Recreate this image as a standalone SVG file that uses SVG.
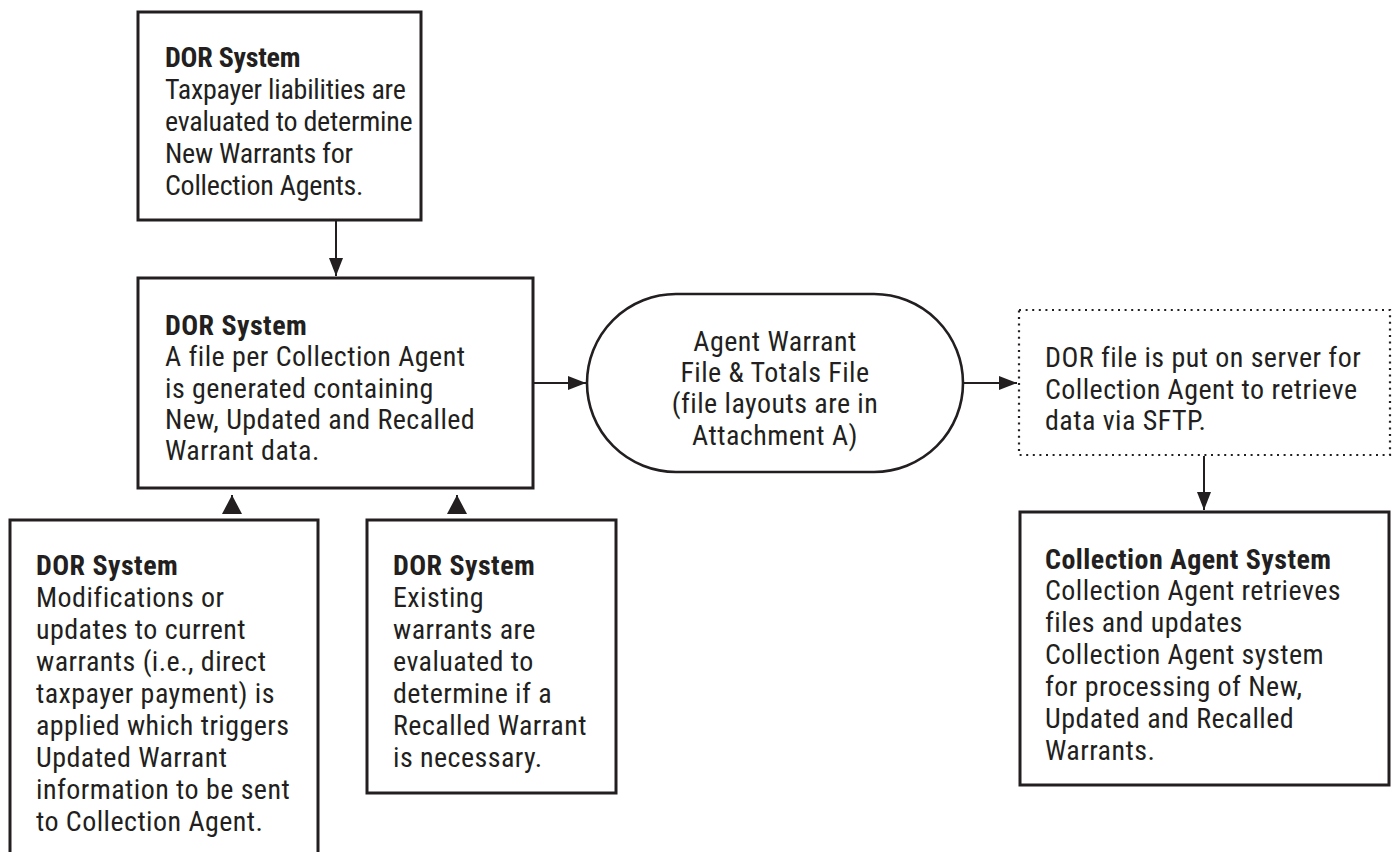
<svg xmlns="http://www.w3.org/2000/svg" width="1394" height="852" viewBox="0 0 1394 852">
<style>
.box{fill:#fff;stroke:#231f20;stroke-width:3}
.dot{fill:#fff;stroke:#231f20;stroke-width:2.2;stroke-dasharray:2 4.6}
.t{font-family:Roboto,"Liberation Sans",sans-serif;font-size:28px;fill:#231f20;font-stretch:condensed;letter-spacing:0.45px}
.t0{letter-spacing:-0.25px}
.b{font-weight:bold}
.c{stroke:#231f20;stroke-width:2;fill:none}
</style>
<defs>
<marker id="ah" markerUnits="userSpaceOnUse" markerWidth="20" markerHeight="14" refX="18" refY="7" orient="auto"><path d="M0,0 L18,7 L0,14 Z" fill="#231f20"/></marker>
<marker id="ahb" markerUnits="userSpaceOnUse" markerWidth="20" markerHeight="20" refX="19" refY="10" orient="auto"><path d="M0,0 L19,10 L0,20 Z" fill="#231f20"/></marker>
</defs>
<g id="connectors">
<line class="c" x1="336" y1="221" x2="336" y2="276" marker-end="url(#ah)"/>
<line class="c" x1="534" y1="383" x2="586" y2="383" marker-end="url(#ah)"/>
<line class="c" x1="964" y1="383" x2="1017" y2="383" marker-end="url(#ah)"/>
<line class="c" x1="1204" y1="456" x2="1204" y2="510" marker-end="url(#ah)"/>
<line class="c" x1="232" y1="514" x2="232" y2="495" marker-end="url(#ahb)"/>
<line class="c" x1="457" y1="514" x2="457" y2="495" marker-end="url(#ahb)"/>
</g>
<g id="node-new-warrants">
<rect class="box" x="138" y="12" width="283" height="208"/>
<text class="t t0" x="165"><tspan class="b" y="67">DOR System</tspan><tspan x="165" y="99">Taxpayer liabilities are</tspan><tspan x="165" y="131">evaluated to determine</tspan><tspan x="165" y="163">New Warrants for</tspan><tspan x="165" y="195">Collection Agents.</tspan></text>
</g>
<g id="node-file-generated">
<rect class="box" x="138" y="278" width="395" height="210"/>
<text class="t" x="165"><tspan class="b" y="335">DOR System</tspan><tspan x="165" y="366">A file per Collection Agent</tspan><tspan x="165" y="398">is generated containing</tspan><tspan x="165" y="429">New, Updated and Recalled</tspan><tspan x="165" y="460">Warrant data.</tspan></text>
</g>
<g id="node-agent-warrant-file">
<rect class="box" style="stroke-width:2.6" x="587" y="294" width="376" height="178" rx="89" ry="89"/>
<text class="t" text-anchor="middle"><tspan x="775" y="351">Agent Warrant</tspan><tspan x="775" y="382">File &amp; Totals File</tspan><tspan x="775" y="413">(file layouts are in</tspan><tspan x="775" y="445">Attachment A)</tspan></text>
</g>
<g id="node-server">
<rect class="dot" x="1019" y="310" width="371" height="145"/>
<text class="t"><tspan x="1045" y="367">DOR file is put on server for</tspan><tspan x="1045" y="399">Collection Agent to retrieve</tspan><tspan x="1045" y="430">data via SFTP.</tspan></text>
</g>
<g id="node-collection-agent">
<rect class="box" x="1020" y="512" width="369" height="273"/>
<text class="t"><tspan class="b" x="1045" y="569">Collection Agent System</tspan><tspan x="1045" y="600">Collection Agent retrieves</tspan><tspan x="1045" y="632">files and updates</tspan><tspan x="1045" y="664">Collection Agent system</tspan><tspan x="1045" y="696">for processing of New,</tspan><tspan x="1045" y="728">Updated and Recalled</tspan><tspan x="1045" y="760">Warrants.</tspan></text>
</g>
<g id="node-modifications">
<rect class="box" x="10" y="520" width="308" height="350"/>
<text class="t"><tspan class="b" x="36" y="575">DOR System</tspan><tspan x="36" y="607">Modifications or</tspan><tspan x="36" y="639">updates to current</tspan><tspan x="36" y="671">warrants (i.e., direct</tspan><tspan x="36" y="703">taxpayer payment) is</tspan><tspan x="36" y="735">applied which triggers</tspan><tspan x="36" y="767">Updated Warrant</tspan><tspan x="36" y="799">information to be sent</tspan><tspan x="36" y="831">to Collection Agent.</tspan></text>
</g>
<g id="node-recalled">
<rect class="box" x="367" y="520" width="249" height="273"/>
<text class="t"><tspan class="b" x="393" y="575">DOR System</tspan><tspan x="393" y="607">Existing</tspan><tspan x="393" y="639">warrants are</tspan><tspan x="393" y="671">evaluated to</tspan><tspan x="393" y="703">determine if a</tspan><tspan x="393" y="735">Recalled Warrant</tspan><tspan x="393" y="767">is necessary.</tspan></text>
</g>
</svg>
